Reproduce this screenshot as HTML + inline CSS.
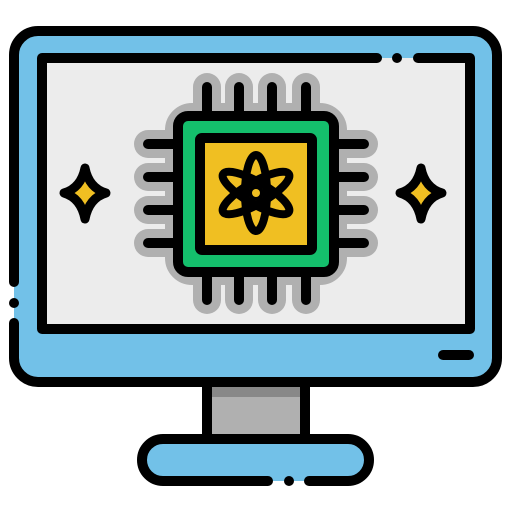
<!DOCTYPE html>
<html><head><style>html,body{margin:0;padding:0;background:#fff}svg{display:block}</style></head>
<body>
<svg width="512" height="512" viewBox="0 0 512 512" xmlns="http://www.w3.org/2000/svg">
<g stroke-linecap="round" stroke-linejoin="round">
<!-- neck -->
<rect x="207" y="380" width="98" height="58" fill="#b0b0b0"/>
<rect x="207" y="384" width="98" height="13" fill="#888"/>
<line x1="207" y1="382" x2="207" y2="438" stroke="#000" stroke-width="10"/>
<line x1="305" y1="382" x2="305" y2="438" stroke="#000" stroke-width="10"/>
<!-- base -->
<rect x="142" y="439" width="227" height="42" rx="21" fill="#72c1e8"/>
<path d="M309 481 H348 A21 21 0 0 0 348 439 H163 A21 21 0 0 0 163 481 H268" fill="none" stroke="#000" stroke-width="10"/>
<circle cx="289" cy="481" r="5" fill="#000"/>
<!-- monitor -->
<rect x="14" y="31" width="483" height="351" rx="24" fill="#72c1e8"/>
<path d="M14 323 V358 A24 24 0 0 0 38 382 H473 A24 24 0 0 0 497 358 V55 A24 24 0 0 0 473 31 H38 A24 24 0 0 0 14 55 V282" fill="none" stroke="#000" stroke-width="10"/>
<circle cx="14" cy="303" r="5" fill="#000"/>
<rect x="42" y="58" width="428" height="271" fill="#ececec"/>
<path d="M418 58 H470 V329 H42 V58 H377" fill="none" stroke="#000" stroke-width="10"/>
<circle cx="397" cy="58" r="5" fill="#000"/>
<line x1="443" y1="355" x2="469" y2="355" stroke="#000" stroke-width="10"/>
<!-- halo -->
<g stroke="#b0b0b0" stroke-width="28" fill="none">
<path d="M207 87V120M239 87V120M272 87V120M306 87V120M207 300V270M239 300V270M272 300V270M306 300V270M148 144H180M148 177H180M148 210H180M148 243H180M364 144H330M364 177H330M364 210H330M364 243H330"/>
<rect x="178" y="116" width="156" height="156" rx="14" stroke-width="26"/>
</g>
<g stroke="#000" stroke-width="10" fill="none">
<path d="M207 87V120M239 87V120M272 87V120M306 87V120M207 300V270M239 300V270M272 300V270M306 300V270M148 144H180M148 177H180M148 210H180M148 243H180M364 144H330M364 177H330M364 210H330M364 243H330"/>
</g>
<rect x="178" y="116" width="156" height="156" rx="10" fill="#14bf6c" stroke="#000" stroke-width="10"/>
<rect x="200" y="138" width="112" height="112" rx="2" fill="#f0bf22" stroke="#000" stroke-width="10"/>
<!-- atom -->
<g fill="none" stroke="#000" stroke-width="8" transform="translate(256,193)">
<ellipse rx="11" ry="38"/>
<ellipse rx="11" ry="38" transform="rotate(60)"/>
<ellipse rx="11" ry="38" transform="rotate(-60)"/>
</g>
<circle cx="256" cy="193" r="8" fill="#000"/>
<circle cx="256" cy="193" r="4" fill="#f0bf22"/>
<!-- sparkles -->
<g fill="#f0bf22" stroke="#000" stroke-width="9">
<path d="M85 168 Q89 188 106 193 Q89 198 85 219 Q81 198 64 193 Q81 188 85 168Z"/>
<path d="M421 168 Q425 188 442 193 Q425 198 421 219 Q417 198 400 193 Q417 188 421 168Z"/>
</g>
</g>
</svg>
</body></html>
